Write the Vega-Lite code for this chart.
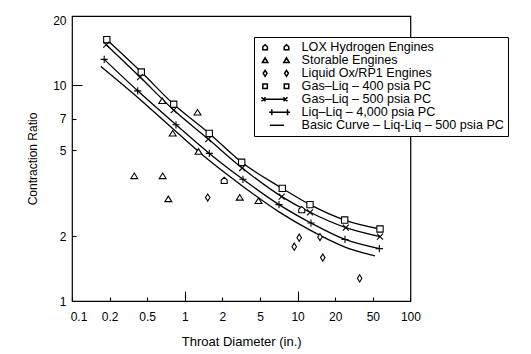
{
  "$schema": "https://vega.github.io/schema/vega-lite/v6.json",
  "width": 338.4,
  "height": 285,
  "autosize": {"type": "none"},
  "padding": {"left": 72, "top": 16, "right": 120.6, "bottom": 53},
  "background": "white",
  "config": {
    "view": {"stroke": "black", "strokeWidth": 1.2},
    "font": "Liberation Sans",
    "legend": {"rowPadding": 0},
    "axis": {
      "grid": false,
      "domain": false,
      "tickColor": "black",
      "tickWidth": 1.1,
      "labelColor": "black",
      "titleColor": "black",
      "labelFont": "Liberation Sans",
      "titleFont": "Liberation Sans",
      "labelFontSize": 12,
      "titleFontSize": 13,
      "titleFontWeight": "normal",
      "labelOverlap": false,
      "labelBound": false,
      "labelFlush": false
    }
  },
  "datasets": {
    "rows": [
      {"series": "Gas–Liq – 400 psia PC", "d": 0.190, "cr": 16.3},
      {"series": "Gas–Liq – 400 psia PC", "d": 0.433, "cr": 11.54},
      {"series": "Gas–Liq – 400 psia PC", "d": 0.815, "cr": 8.18},
      {"series": "Gas–Liq – 400 psia PC", "d": 1.571, "cr": 5.99},
      {"series": "Gas–Liq – 400 psia PC", "d": 3.20, "cr": 4.40},
      {"series": "Gas–Liq – 400 psia PC", "d": 7.54, "cr": 3.33},
      {"series": "Gas–Liq – 400 psia PC", "d": 12.57, "cr": 2.80},
      {"series": "Gas–Liq – 400 psia PC", "d": 25.2, "cr": 2.375},
      {"series": "Gas–Liq – 400 psia PC", "d": 57.1, "cr": 2.158},
      {"series": "Gas–Liq – 500 psia PC", "d": 0.188, "cr": 15.45},
      {"series": "Gas–Liq – 500 psia PC", "d": 0.420, "cr": 10.94},
      {"series": "Gas–Liq – 500 psia PC", "d": 0.815, "cr": 7.69},
      {"series": "Gas–Liq – 500 psia PC", "d": 1.542, "cr": 5.64},
      {"series": "Gas–Liq – 500 psia PC", "d": 3.24, "cr": 4.14},
      {"series": "Gas–Liq – 500 psia PC", "d": 7.46, "cr": 3.05},
      {"series": "Gas–Liq – 500 psia PC", "d": 12.57, "cr": 2.58},
      {"series": "Gas–Liq – 500 psia PC", "d": 25.9, "cr": 2.19},
      {"series": "Gas–Liq – 500 psia PC", "d": 57.1, "cr": 1.99},
      {"series": "Liq–Liq – 4,000 psia PC", "d": 0.181, "cr": 13.21},
      {"series": "Liq–Liq – 4,000 psia PC", "d": 0.397, "cr": 9.44},
      {"series": "Liq–Liq – 4,000 psia PC", "d": 0.850, "cr": 6.57},
      {"series": "Liq–Liq – 4,000 psia PC", "d": 1.571, "cr": 4.84},
      {"series": "Liq–Liq – 4,000 psia PC", "d": 3.30, "cr": 3.67},
      {"series": "Liq–Liq – 4,000 psia PC", "d": 7.10, "cr": 2.80},
      {"series": "Liq–Liq – 4,000 psia PC", "d": 12.80, "cr": 2.30},
      {"series": "Liq–Liq – 4,000 psia PC", "d": 25.4, "cr": 1.93},
      {"series": "Liq–Liq – 4,000 psia PC", "d": 56.4, "cr": 1.75},
      {"series": "Basic Curve – Liq-Liq – 500 psia PC", "d": 0.170, "cr": 12.24},
      {"series": "Basic Curve – Liq-Liq – 500 psia PC", "d": 0.397, "cr": 8.79},
      {"series": "Basic Curve – Liq-Liq – 500 psia PC", "d": 0.850, "cr": 6.11},
      {"series": "Basic Curve – Liq-Liq – 500 psia PC", "d": 1.571, "cr": 4.48},
      {"series": "Basic Curve – Liq-Liq – 500 psia PC", "d": 3.30, "cr": 3.40},
      {"series": "Basic Curve – Liq-Liq – 500 psia PC", "d": 7.10, "cr": 2.59},
      {"series": "Basic Curve – Liq-Liq – 500 psia PC", "d": 12.80, "cr": 2.12},
      {"series": "Basic Curve – Liq-Liq – 500 psia PC", "d": 25.4, "cr": 1.78},
      {"series": "Basic Curve – Liq-Liq – 500 psia PC", "d": 52.1, "cr": 1.62},
      {"series": "Storable Engines", "d": 0.365, "cr": 3.80},
      {"series": "Storable Engines", "d": 0.665, "cr": 3.80},
      {"series": "Storable Engines", "d": 0.738, "cr": 2.97},
      {"series": "Storable Engines", "d": 0.660, "cr": 8.47},
      {"series": "Storable Engines", "d": 0.800, "cr": 5.99},
      {"series": "Storable Engines", "d": 1.264, "cr": 7.49},
      {"series": "Storable Engines", "d": 1.287, "cr": 4.93},
      {"series": "Storable Engines", "d": 3.05, "cr": 3.02},
      {"series": "Storable Engines", "d": 4.82, "cr": 2.91},
      {"series": "Liquid Ox/RP1 Engines", "d": 1.525, "cr": 3.02},
      {"series": "Liquid Ox/RP1 Engines", "d": 9.40, "cr": 1.786},
      {"series": "Liquid Ox/RP1 Engines", "d": 10.3, "cr": 1.966},
      {"series": "Liquid Ox/RP1 Engines", "d": 15.1, "cr": 1.98},
      {"series": "Liquid Ox/RP1 Engines", "d": 15.9, "cr": 1.59},
      {"series": "Liquid Ox/RP1 Engines", "d": 36.3, "cr": 1.274},
      {"series": "LOX Hydrogen Engines", "d": 2.09, "cr": 3.62},
      {"series": "LOX Hydrogen Engines", "d": 10.8, "cr": 2.65}
    ]
  },
  "data": {"name": "rows"},
  "resolve": {"scale": {"shape": "independent"}},
  "layer": [
    {
      "transform": [
        {"filter": {"field": "series", "oneOf": ["Gas–Liq – 400 psia PC", "Gas–Liq – 500 psia PC", "Liq–Liq – 4,000 psia PC", "Basic Curve – Liq-Liq – 500 psia PC"]}}
      ],
      "mark": {"type": "line", "interpolate": "monotone", "strokeWidth": 1.3, "color": "black"},
      "encoding": {
        "x": {
          "field": "d",
          "type": "quantitative",
          "scale": {
            "type": "log",
            "nice": false,
            "domain": [0.1, 0.2, 0.5, 1, 2, 5, 10, 20, 50, 100],
            "range": [0, 37.6, 75.2, 112.8, 150.4, 188, 225.6, 263.2, 300.8, 338.4]
          },
          "axis": {
            "title": "Throat Diameter (in.)",
            "values": [0.1, 0.2, 0.5, 1, 2, 5, 10, 20, 50, 100],
            "format": "~g",
            "tickSize": {"condition": {"test": "datum.value == 1 || datum.value == 10", "value": -10}, "value": -4},
            "labelPadding": {"condition": {"test": "datum.value == 1 || datum.value == 10", "value": 20.8}, "value": 14.8},
            "labelOffset": {"condition": {"test": "datum.value == 0.1", "value": 6.5}, "value": 0},
            "titleX": 169.2,
            "titleY": 40,
            "titleBaseline": "middle",
            "titleAlign": "center"
          }
        },
        "y": {
          "field": "cr",
          "type": "quantitative",
          "scale": {"type": "log", "nice": false, "domain": [1, 21]},
          "axis": {
            "title": "Contraction Ratio",
            "values": [1, 2, 5, 7, 10, 20],
            "format": "~g",
            "tickSize": {"condition": {"test": "datum.value == 10", "value": -10}, "value": -4},
            "tickOpacity": {"condition": {"test": "datum.value == 20 || datum.value == 1", "value": 0}, "value": 1},
            "labelPadding": {"condition": {"test": "datum.value == 10", "value": 16}, "value": 10},
            "titleFontSize": 12,
            "titleAngle": 270,
            "titleBaseline": "middle",
            "titleAlign": "center",
            "titleX": -40,
            "titleY": 142.5
          }
        },
        "detail": {"field": "series", "type": "nominal"}
      }
    },
    {
      "transform": [
        {"filter": "datum.series !== 'Basic Curve – Liq-Liq – 500 psia PC'"}
      ],
      "mark": {"type": "point", "filled": false, "fill": "white", "stroke": "black", "strokeWidth": 1.1, "size": 36, "opacity": 1},
      "encoding": {
        "x": {"field": "d", "type": "quantitative"},
        "y": {"field": "cr", "type": "quantitative"},
        "shape": {
          "field": "series",
          "type": "nominal",
          "scale": {
            "domain": ["LOX Hydrogen Engines", "Storable Engines", "Liquid Ox/RP1 Engines", "Gas–Liq – 400 psia PC", "Gas–Liq – 500 psia PC", "Liq–Liq – 4,000 psia PC"],
            "range": [
              "M-1,1H1V-0.2L0,-1.1L-1,-0.2Z",
              "M0,-1L1.15,0.85H-1.15Z",
              "M0,-1.2L0.75,0L0,1.2L-0.75,0Z",
              "M-1.05,-1.05H1.05V1.05H-1.05Z",
              "M-1,-1L1,1M-1,1L1,-1",
              "M-1.2,0H1.2M0,-1.2V1.2"
            ]
          },
          "legend": null
        }
      }
    },
    {
      "transform": [{"filter": "false"}],
      "mark": {"type": "point", "filled": false, "fill": "white", "stroke": "black", "strokeWidth": 1, "size": 100, "opacity": 1},
      "encoding": {
        "x": {"field": "d", "type": "quantitative"},
        "y": {"field": "cr", "type": "quantitative"},
        "shape": {
          "field": "series",
          "type": "nominal",
          "scale": {
            "domain": ["LOX Hydrogen Engines", "Storable Engines", "Liquid Ox/RP1 Engines", "Gas–Liq – 400 psia PC", "Gas–Liq – 500 psia PC", "Liq–Liq – 4,000 psia PC", "Basic Curve – Liq-Liq – 500 psia PC"],
            "range": [
              "M-0.3,0.5H0.62V-0.1L0.16,-0.5L-0.3,-0.1ZM3.98,0.5H4.9V-0.1L4.44,-0.5L3.98,-0.1Z",
              "M0.16,-0.5L0.71,0.45H-0.39ZM4.44,-0.5L4.99,0.45H3.89Z",
              "M0.16,-0.6L0.54,0L0.16,0.6L-0.22,0ZM4.44,-0.6L4.82,0L4.44,0.6L4.06,0Z",
              "M-0.29,-0.45H0.61V0.45H-0.29ZM3.99,-0.45H4.89V0.45H3.99Z",
              "M-0.56,-0.4L0.24,0.4M-0.56,0.4L0.24,-0.4M-0.16,0H4.24M3.84,-0.4L4.64,0.4M3.84,0.4L4.64,-0.4",
              "M0.96,0H5.16M1.5,-0.6V0.6M4.64,-0.6V0.6",
              "M1.1,0H3.96"
            ]
          },
          "legend": {
            "orient": "none",
            "legendX": 182,
            "legendY": 21,
            "title": null,
            "padding": 4,
            "fillColor": "white",
            "strokeColor": "black",
            "labelColor": "black",
            "labelFont": "Liberation Sans",
            "labelFontSize": 12.6,
            "labelOffset": 31,
            "labelLimit": 400,
            "symbolSize": 100
          }
        }
      }
    }
  ]
}
